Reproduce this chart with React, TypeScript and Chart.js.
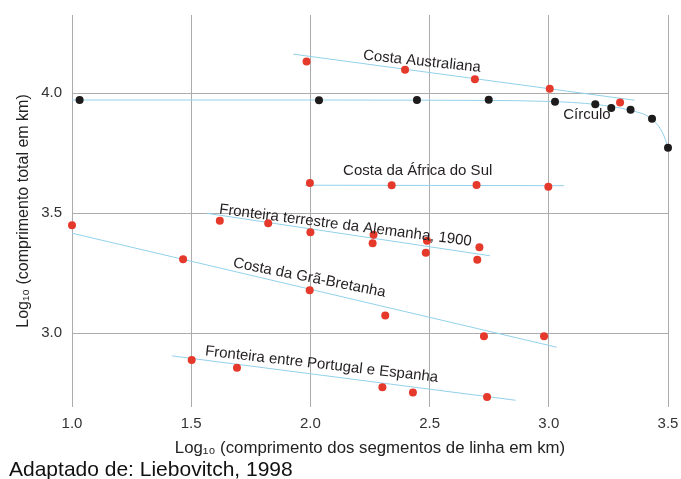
import React, { useEffect, useRef } from 'react';
import { Chart, registerables } from 'chart.js';

Chart.register(...registerables);

const FONT = '"Liberation Sans", Arial, Helvetica, sans-serif';

// ---- axis ticks ----
const xTickValues = [1.0, 1.5, 2.0, 2.5, 3.0, 3.5];
const yTickValues = [3.0, 3.5, 4.0];

// ---- Círculo ----
const circleX = [1.032, 2.036, 2.447, 2.748, 3.026, 3.195, 3.262, 3.343, 3.433, 3.5];
const circleY = [3.972, 3.971, 3.972, 3.973, 3.965, 3.954, 3.939, 3.931, 3.894, 3.773];
const circleFitX = [1.0, 2.0, 2.5, 3.0, 3.2, 3.34, 3.43, 3.48, 3.5];
const circleFitY = [3.972, 3.972, 3.971, 3.966, 3.953, 3.929, 3.894, 3.83, 3.773];

// ---- Costa Australiana ----
const ausX = [1.984, 2.397, 2.69, 3.004, 3.299];
const ausY = [4.132, 4.098, 4.058, 4.019, 3.961];
const ausFitX = [1.928, 3.359];
const ausFitY = [4.163, 3.971];

// ---- Costa da África do Sul ----
const safX = [1.998, 2.341, 2.697, 2.998];
const safY = [3.626, 3.617, 3.618, 3.611];
const safFitX = [1.977, 3.064];
const safFitY = [3.617, 3.615];

// ---- Fronteira terrestre da Alemanha, 1900 ----
const gerX = [1.62, 1.823, 2.0, 2.265, 2.261, 2.489, 2.484, 2.709, 2.7];
const gerY = [3.469, 3.458, 3.421, 3.411, 3.375, 3.386, 3.336, 3.358, 3.306];
const gerFitX = [1.565, 2.753];
const gerFitY = [3.5, 3.323];

// ---- Costa da Grã-Bretanha ----
const gbX = [1.0, 1.466, 1.997, 2.314, 2.728, 2.98];
const gbY = [3.45, 3.308, 3.179, 3.074, 2.988, 2.988];
const gbFitX = [1.0, 3.033];
const gbFitY = [3.417, 2.942];

// ---- Fronteira entre Portugal e Espanha ----
const peX = [1.502, 1.692, 2.302, 2.43, 2.741];
const peY = [2.889, 2.857, 2.775, 2.753, 2.735];
const peFitX = [1.419, 2.861];
const peFitY = [2.906, 2.721];

// ---- series labels (annotations) ----
const labelTexts = [
  'Costa Australiana',
  'Círculo',
  'Costa da África do Sul',
  'Fronteira terrestre da Alemanha, 1900',
  'Costa da Grã-Bretanha',
  'Fronteira entre Portugal e Espanha',
];
const labelX = [2.468, 3.16, 2.45, 2.147, 1.996, 2.047];
const labelY = [4.132, 3.91, 3.678, 3.449, 3.231, 2.87];
const labelAngle = [6, 0, 0, 7.3, 11.1, 6.5];

const xTitle = 'Log₁₀ (comprimento dos segmentos de linha em km)';
const yTitle = 'Log₁₀ (comprimento total em km)';
const footerText = 'Adaptado de: Liebovitch, 1998';

const RED = '#e4392b';
const BLACK = '#1d1b1b';
const BLUE = '#93d1ea';

const zip = (xs: number[], ys: number[]) => xs.map((x, i) => ({ x, y: ys[i] }));

const pointSet = (label: string, xs: number[], ys: number[], color: string) => ({
  type: 'scatter' as const,
  label,
  data: zip(xs, ys),
  backgroundColor: color,
  borderWidth: 0,
  pointRadius: 4,
  pointHoverRadius: 4,
  showLine: false,
  clip: false,
  order: 1,
});

const fitSet = (label: string, xs: number[], ys: number[], curved = false) => ({
  type: 'line' as const,
  label,
  data: zip(xs, ys),
  borderColor: BLUE,
  borderWidth: 1,
  pointRadius: 0,
  fill: false,
  cubicInterpolationMode: curved ? ('monotone' as const) : ('default' as const),
  tension: 0,
  clip: false,
  order: 2,
});

const annotationPlugin = {
  id: 'annotations',
  afterDatasetsDraw(chart: any) {
    const { ctx, scales } = chart;
    const xs = scales.x;
    const ys = scales.y;
    ctx.save();
    ctx.font = `15px ${FONT}`;
    ctx.fillStyle = '#231f20';
    ctx.textAlign = 'center';
    ctx.textBaseline = 'middle';
    labelTexts.forEach((t, i) => {
      ctx.save();
      ctx.translate(xs.getPixelForValue(labelX[i]), ys.getPixelForValue(labelY[i]));
      ctx.rotate((labelAngle[i] * Math.PI) / 180);
      ctx.fillText(t, 0, 0);
      ctx.restore();
    });
    ctx.restore();
  },
  afterDraw(chart: any) {
    const { ctx } = chart;
    ctx.save();
    ctx.font = `21px ${FONT}`;
    ctx.fillStyle = '#111111';
    ctx.textAlign = 'left';
    ctx.textBaseline = 'alphabetic';
    ctx.fillText(footerText, 9, 476);
    ctx.restore();
  },
};

const clearPadding = (scale: any) => {
  scale.paddingLeft = 0;
  scale.paddingRight = 0;
  scale.paddingTop = 0;
  scale.paddingBottom = 0;
};

export default function App() {
  const canvasRef = useRef<HTMLCanvasElement | null>(null);

  useEffect(() => {
    const canvas = canvasRef.current;
    if (!canvas) return;
    const chart = new Chart(canvas, {
      type: 'scatter',
      data: {
        datasets: [
          fitSet('Círculo (ajuste)', circleFitX, circleFitY, true),
          fitSet('Costa Australiana (ajuste)', ausFitX, ausFitY),
          fitSet('Costa da África do Sul (ajuste)', safFitX, safFitY),
          fitSet('Fronteira terrestre da Alemanha, 1900 (ajuste)', gerFitX, gerFitY),
          fitSet('Costa da Grã-Bretanha (ajuste)', gbFitX, gbFitY),
          fitSet('Fronteira entre Portugal e Espanha (ajuste)', peFitX, peFitY),
          pointSet('Círculo', circleX, circleY, BLACK),
          pointSet('Costa Australiana', ausX, ausY, RED),
          pointSet('Costa da África do Sul', safX, safY, RED),
          pointSet('Fronteira terrestre da Alemanha, 1900', gerX, gerY, RED),
          pointSet('Costa da Grã-Bretanha', gbX, gbY, RED),
          pointSet('Fronteira entre Portugal e Espanha', peX, peY, RED),
        ] as any,
      },
      options: {
        animation: false,
        responsive: false,
        events: [],
        layout: { padding: { left: 0, right: 13, top: 15, bottom: 0 } },
        plugins: {
          legend: { display: false },
          tooltip: { enabled: false },
          title: { display: false },
        },
        scales: {
          x: {
            type: 'linear',
            min: 1.0,
            max: 3.5,
            afterFit: (scale: any) => {
              scale.height = 72;
              clearPadding(scale);
            },
            afterBuildTicks: (scale: any) => {
              scale.ticks = xTickValues.map((v) => ({ value: v }));
            },
            border: { display: false },
            grid: { color: '#ababab', lineWidth: 1, drawTicks: false },
            ticks: {
              padding: 8,
              color: '#333333',
              font: { family: FONT, size: 15 },
              callback: (v: any) => Number(v).toFixed(1),
            },
            title: {
              display: true,
              text: xTitle,
              color: '#222222',
              font: { family: FONT, size: 16.8 },
              padding: { top: 0, bottom: 21 },
            },
          },
          y: {
            type: 'linear',
            min: 2.693,
            max: 4.326,
            afterFit: (scale: any) => {
              scale.width = 72;
              clearPadding(scale);
            },
            afterBuildTicks: (scale: any) => {
              scale.ticks = yTickValues.map((v) => ({ value: v }));
            },
            border: { display: false },
            grid: { color: '#ababab', lineWidth: 1, drawTicks: false },
            ticks: {
              padding: 10,
              color: '#333333',
              font: { family: FONT, size: 15 },
              callback: (v: any) => Number(v).toFixed(1),
            },
            title: {
              display: true,
              text: yTitle,
              color: '#222222',
              font: { family: FONT, size: 16 },
              padding: { top: 14, bottom: 0 },
            },
          },
        },
      } as any,
      plugins: [annotationPlugin],
    });
    return () => chart.destroy();
  }, []);

  return (
    <div style={{ position: 'fixed', left: 0, top: 0, width: 681, height: 479, background: '#ffffff' }}>
      <canvas ref={canvasRef} width={681} height={479} style={{ display: 'block' }} />
    </div>
  );
}
